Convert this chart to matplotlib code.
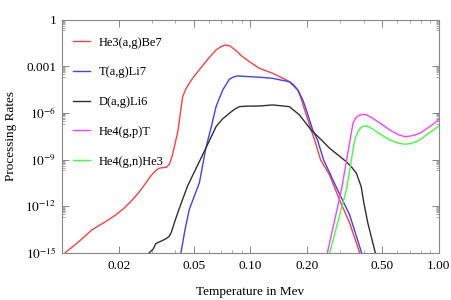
import matplotlib
matplotlib.use("Agg")
import matplotlib.pyplot as plt
import numpy as np

plt.rcParams['font.family'] = ['Liberation Serif', 'DejaVu Serif']
plt.rcParams['mathtext.fontset'] = 'stix'

# temperatures (MeV) and log10 of processing rate
t_he3 = [0.0104, 0.0125, 0.0145, 0.017, 0.0193, 0.0215, 0.0236, 0.026, 0.0279,
         0.0296, 0.0315, 0.0328, 0.0342, 0.0358, 0.0372, 0.0386, 0.0398, 0.0412,
         0.0425, 0.0437, 0.0455, 0.0474, 0.0493, 0.053, 0.058, 0.062, 0.0657,
         0.0697, 0.0736, 0.078, 0.0839, 0.09, 0.0988, 0.1117, 0.1314, 0.15,
         0.161, 0.17, 0.1785, 0.186, 0.194, 0.21, 0.219, 0.2357, 0.263, 0.297,
         0.336, 0.38]
r_he3 = [-15.0, -14.2, -13.5, -13.0, -12.56, -12.1, -11.6, -11.0, -10.5,
         -10.05, -9.7, -9.56, -9.52, -9.5, -9.3, -8.7, -8.0, -7.2,
         -6.0, -4.96, -4.45, -4.1, -3.78, -3.3, -2.71, -2.3, -1.96,
         -1.75, -1.64, -1.7, -2.0, -2.35, -2.71, -3.14, -3.46, -3.8,
         -3.99, -4.2, -4.55, -5.1, -5.81, -7.1, -7.74, -9.02, -9.99, -11.59,
         -13.07, -15.0]

t_t = [0.0428, 0.045, 0.0474, 0.0536, 0.058, 0.062, 0.0657, 0.0713, 0.0773,
       0.081, 0.0856, 0.1117, 0.131, 0.161, 0.1785, 0.19, 0.198, 0.214, 0.227,
       0.2445, 0.29, 0.336, 0.389]
r_t = [-15.0, -13.5, -12.2, -10.5, -8.27, -6.9, -5.6, -4.53, -3.84,
       -3.7, -3.63, -3.71, -3.78, -4.0, -4.53, -5.2, -5.81, -7.1, -7.74,
       -9.02, -10.95, -12.55, -15.0]

t_d = [0.029, 0.0305, 0.0315, 0.0328, 0.0342, 0.0355, 0.037, 0.038, 0.0394,
       0.0415, 0.0464, 0.058, 0.0657, 0.071, 0.0773, 0.082, 0.0874, 0.095,
       0.1117, 0.131, 0.161, 0.182, 0.195, 0.21, 0.238, 0.263, 0.322, 0.345,
       0.365, 0.387, 0.40, 0.42, 0.46]
r_d = [-15.0, -14.75, -14.4, -14.3, -14.2, -14.1, -13.95, -13.7, -13.1,
       -12.3, -10.7, -8.27, -6.89, -6.4, -6.03, -5.78, -5.6, -5.57,
       -5.56, -5.49, -5.6, -6.13, -6.6, -7.1, -7.74, -8.27, -9.13, -9.5,
       -9.88, -10.74, -11.8, -13.09, -15.0]

t_hp = [0.256, 0.304, 0.338, 0.350, 0.362, 0.375, 0.394, 0.414, 0.446, 0.486,
        0.549, 0.605, 0.659, 0.718, 0.793, 0.874, 0.972, 1.0]
r_hp = [-15.0, -10.95, -7.74, -6.67, -6.33, -6.17, -6.09, -6.13, -6.35, -6.65,
        -7.10, -7.39, -7.53, -7.48, -7.31, -6.97, -6.56, -6.39]

t_hn = [0.263, 0.323, 0.3575, 0.371, 0.385, 0.399, 0.419, 0.446, 0.486, 0.549,
        0.605, 0.659, 0.718, 0.793, 0.874, 0.99, 1.0]
r_hn = [-15.0, -10.95, -7.74, -7.23, -6.97, -6.84, -6.87, -7.05, -7.35, -7.74,
        -7.93, -8.02, -7.96, -7.74, -7.35, -6.89, -6.84]

labels = ["He3(a,g)Be7", "T(a,g)Li7", "D(a,g)Li6", "He4(g,p)T", "He4(g,n)He3"]
colors = ["#ff4040", "#4040ff", "#303030", "#ff40ff", "#40ff40"]

xticks = [0.02, 0.05, 0.1, 0.2, 0.5, 1.0]
xticklabels = ["0.02", "0.05", "0.10", "0.20", "0.50", "1.00"]
yticks = [1, 1e-3, 1e-6, 1e-9, 1e-12, 1e-15]
yticklabels = ["1", "0.001", r"$10^{-6}$", r"$10^{-9}$", r"$10^{-12}$", r"$10^{-15}$"]

fig = plt.figure(figsize=(4.52, 3.0), dpi=100)
ax = fig.add_axes([0.137, 0.157, 0.834, 0.778])

curves = [(t_he3, r_he3), (t_t, r_t), (t_d, r_d), (t_hp, r_hp), (t_hn, r_hn)]
for (t, r), lab, c in zip(curves, labels, colors):
    ax.plot(t, 10.0 ** np.array(r), color=c, lw=1.0, label=lab)

ax.set_xscale('log')
ax.set_yscale('log')
ax.set_xlim(0.01, 1.0)
ax.set_ylim(1e-15, 1)

ax.set_xticks(xticks)
ax.set_xticklabels(xticklabels)
xminor = [m * 0.01 for m in range(1, 10)] + [m * 0.1 for m in range(1, 10)]
xminor = [v for v in xminor if v not in (0.02, 0.05, 0.1, 0.2, 0.5)]
ax.set_xticks(xminor, minor=True)
ax.set_xticklabels([], minor=True)

ax.set_yticks(yticks)
ax.set_yticklabels(yticklabels)
yminor = []
for e in [0, -3, -6, -9, -12]:
    yminor += [m * 10.0 ** (e - 1) for m in range(2, 10)]
ax.set_yticks(yminor, minor=True)
ax.set_yticklabels([], minor=True)

for s in ax.spines.values():
    s.set_color('#888888')
    s.set_linewidth(0.8)
ax.tick_params(which='both', direction='in', top=True, right=True,
               color='#888888', labelsize=9.5)
ax.tick_params(which='major', length=5, width=0.7)
ax.tick_params(which='minor', length=2.5, width=0.5)
ax.tick_params(axis='x', pad=5)
ax.tick_params(axis='y', pad=4)

ax.set_xlabel("Temperature in Mev", fontsize=9.5, labelpad=10)
ax.set_ylabel("Processing Rates", fontsize=9.5, labelpad=6)

ax.legend(loc='upper left', bbox_to_anchor=(-0.011, 0.991), frameon=False,
          fontsize=9, handlelength=1.4, handletextpad=0.65, labelspacing=1.42,
          borderaxespad=0.3, borderpad=0.9)

fig.savefig("out.png", dpi=100)
